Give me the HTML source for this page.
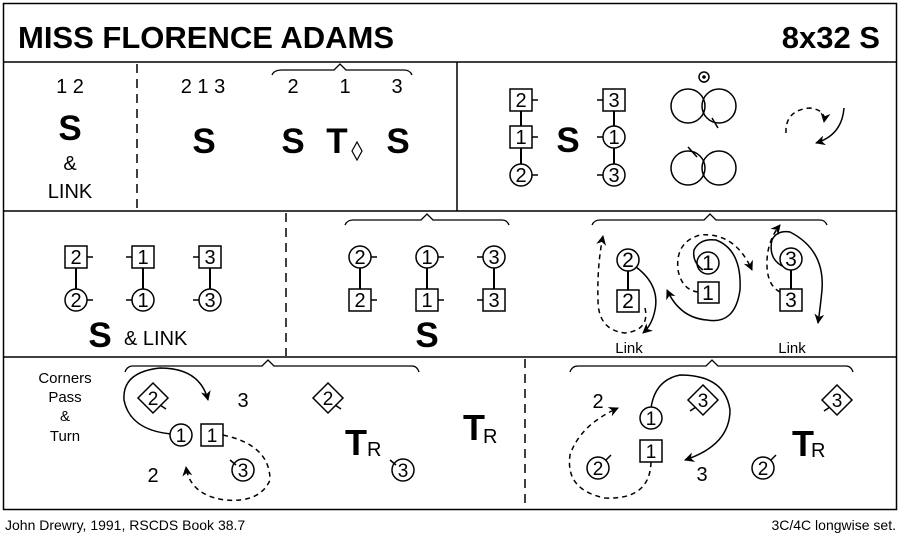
<!DOCTYPE html>
<html><head><style>
html,body{margin:0;padding:0;background:#fff}
svg{display:block}
text{font-family:"Liberation Sans",sans-serif;fill:#000}
.n{font-size:20px;text-anchor:middle}
.b{font-weight:bold;text-anchor:middle}
</style></head><body>
<svg width="900" height="542" viewBox="0 0 900 542" xmlns="http://www.w3.org/2000/svg">
<defs>
<marker id="ah" viewBox="0 0 10 10" refX="9" refY="5" markerWidth="10" markerHeight="10" orient="auto-start-reverse" markerUnits="userSpaceOnUse">
<path d="M0,0 L10,5 L0,10 L3,5 Z" fill="#000"/>
</marker>
</defs>
<g fill="none" stroke="#000" stroke-width="1.5">
<rect x="3.5" y="3.5" width="893" height="506"/>
<line x1="3" y1="62" x2="897" y2="62"/>
<line x1="3" y1="211" x2="897" y2="211"/>
<line x1="3" y1="357" x2="897" y2="357"/>
<line x1="457" y1="62" x2="457" y2="211"/>
</g>
<g stroke="#000" stroke-width="1.5" stroke-dasharray="9,6" fill="none">
<line x1="137" y1="64" x2="137" y2="210"/>
<line x1="286" y1="213" x2="286" y2="356"/>
<line x1="525" y1="359" x2="525" y2="509"/>
</g>
<text x="18" y="48" style="font-size:31px;font-weight:bold">MISS FLORENCE ADAMS</text>
<text x="880" y="48" style="font-size:31px;font-weight:bold;text-anchor:end">8x32 S</text>

<!-- row 1 -->
<text x="70" y="93" class="n">1 2</text>
<text x="70" y="140" class="b" style="font-size:35px">S</text>
<text x="70" y="170" class="n">&amp;</text>
<text x="70" y="198" class="n">LINK</text>
<text x="203" y="93" class="n">2 1 3</text>
<text x="204" y="153" class="b" style="font-size:35px">S</text>
<path d="M272,75 Q274,70 282,70 L334,70 L340,64 L346,70 L404,70 Q410,70 412,75" fill="none" stroke="#000" stroke-width="1.3"/>
<text x="293" y="93" class="n">2</text><text x="345" y="93" class="n">1</text><text x="397" y="93" class="n">3</text>
<text x="293" y="153" class="b" style="font-size:35px">S</text>
<text x="337" y="153" class="b" style="font-size:35px">T</text>
<path d="M357,142 L362,151 L357,160 L352,151 Z" fill="none" stroke="#000" stroke-width="1.2"/>
<text x="398" y="153" class="b" style="font-size:35px">S</text>

<g stroke="#000" stroke-width="1.5" fill="none">
<line x1="521" y1="100" x2="521" y2="175" stroke-width="2"/>
<rect x="510" y="89" width="22" height="22" fill="#fff"/><line x1="532" y1="100" x2="538" y2="100"/>
<rect x="510" y="126" width="22" height="22" fill="#fff"/><line x1="532" y1="137" x2="538" y2="137"/>
<circle cx="521" cy="175" r="11" fill="#fff"/><line x1="532" y1="175" x2="538" y2="175"/>
<line x1="614" y1="100" x2="614" y2="175" stroke-width="2"/>
<rect x="603" y="89" width="22" height="22" fill="#fff"/><line x1="597" y1="100" x2="603" y2="100"/>
<circle cx="614" cy="137" r="11" fill="#fff"/><line x1="597" y1="137" x2="603" y2="137"/>
<circle cx="614" cy="175" r="11" fill="#fff"/><line x1="597" y1="175" x2="603" y2="175"/>
<circle cx="688" cy="106" r="17"/><circle cx="719" cy="106" r="17"/>
<line x1="712" y1="118" x2="718" y2="128"/>
<circle cx="704" cy="77" r="5"/>
<circle cx="688" cy="168" r="17"/><circle cx="719" cy="168" r="17"/>
<line x1="688" y1="147" x2="697" y2="157"/>
<path d="M786,133 Q785,110 810,108 Q826,110 824,122" stroke-dasharray="5,4" marker-end="url(#ah)"/>
<path d="M844,108 Q842,135 816,143" marker-end="url(#ah)"/>
</g>
<circle cx="704" cy="77" r="1.8" fill="#000"/>
<text x="521" y="107" class="n">2</text><text x="521" y="144" class="n">1</text><text x="521" y="182" class="n">2</text>
<text x="614" y="107" class="n">3</text><text x="614" y="144" class="n">1</text><text x="614" y="182" class="n">3</text>
<text x="568" y="152" class="b" style="font-size:35px">S</text>

<!-- row 2 -->
<g stroke="#000" stroke-width="1.5" fill="none">
<line x1="76" y1="257" x2="76" y2="300" stroke-width="2"/>
<rect x="65" y="246" width="22" height="22" fill="#fff"/><line x1="87" y1="257" x2="93" y2="257"/>
<circle cx="76" cy="300" r="11" fill="#fff"/><line x1="87" y1="300" x2="93" y2="300"/>
<line x1="143" y1="257" x2="143" y2="300" stroke-width="2"/>
<rect x="132" y="246" width="22" height="22" fill="#fff"/><line x1="126" y1="257" x2="132" y2="257"/>
<circle cx="143" cy="300" r="11" fill="#fff"/><line x1="126" y1="300" x2="132" y2="300"/>
<line x1="210" y1="257" x2="210" y2="300" stroke-width="2"/>
<rect x="199" y="246" width="22" height="22" fill="#fff"/><line x1="193" y1="257" x2="199" y2="257"/>
<circle cx="210" cy="300" r="11" fill="#fff"/><line x1="193" y1="300" x2="199" y2="300"/>

<path d="M345,225 Q347,220 353,220 L421,220 L427,214 L433,220 L502,220 Q507,220 509,225" stroke-width="1.3"/>
<line x1="360" y1="257" x2="360" y2="300" stroke-width="2"/>
<circle cx="360" cy="257" r="11" fill="#fff"/><line x1="371" y1="257" x2="377" y2="257"/>
<rect x="349" y="289" width="22" height="22" fill="#fff"/><line x1="371" y1="300" x2="377" y2="300"/>
<line x1="427" y1="257" x2="427" y2="300" stroke-width="2"/>
<circle cx="427" cy="257" r="11" fill="#fff"/><line x1="438" y1="257" x2="444" y2="257"/>
<rect x="416" y="289" width="22" height="22" fill="#fff"/><line x1="438" y1="300" x2="444" y2="300"/>
<line x1="494" y1="257" x2="494" y2="300" stroke-width="2"/>
<circle cx="494" cy="257" r="11" fill="#fff"/><line x1="477" y1="257" x2="483" y2="257"/>
<rect x="483" y="289" width="22" height="22" fill="#fff"/><line x1="477" y1="300" x2="483" y2="300"/>

<path d="M592,225 Q594,220 600,220 L704,220 L710,214 L716,220 L820,220 Q825,220 827,225" stroke-width="1.3"/>
<line x1="628" y1="260" x2="628" y2="300" stroke-width="2"/>
<circle cx="628" cy="260" r="11" fill="#fff"/>
<rect x="617" y="290" width="22" height="22" fill="#fff"/>
<path d="M645,308 Q650,330 625,333 Q598,330 598,300 Q597,265 603,236" stroke-dasharray="5,4" marker-end="url(#ah)"/>
<path d="M636,267 Q660,285 655,310 Q652,325 643,333" marker-end="url(#ah)"/>
<circle cx="708" cy="263" r="11" fill="#fff"/>
<rect x="698" y="282" width="21" height="21" fill="#fff"/>
<path d="M698,292 Q682,290 678,270 Q675,242 700,235 Q735,232 752,270" stroke-dasharray="5,4" marker-end="url(#ah)"/>
<path d="M703,270 Q692,262 694,250 Q700,238 716,240 Q742,250 740,290 Q735,325 707,320 Q680,318 667,290" marker-end="url(#ah)"/>
<line x1="791" y1="259" x2="791" y2="300" stroke-width="2"/>
<circle cx="791" cy="259" r="11" fill="#fff"/>
<rect x="780" y="289" width="22" height="22" fill="#fff"/>
<path d="M780,292 Q766,285 767,260 Q768,240 780,225" stroke-dasharray="5,4" marker-end="url(#ah)"/>
<path d="M782,266 Q768,258 772,240 Q777,230 790,232 Q825,250 822,290 Q820,310 818,323" marker-end="url(#ah)"/>
</g>
<text x="76" y="264" class="n">2</text><text x="76" y="307" class="n">2</text>
<text x="143" y="264" class="n">1</text><text x="143" y="307" class="n">1</text>
<text x="210" y="264" class="n">3</text><text x="210" y="307" class="n">3</text>
<text x="100" y="347" class="b" style="font-size:35px">S</text>
<text x="124" y="345" style="font-size:20px">&amp; LINK</text>
<text x="360" y="264" class="n">2</text><text x="360" y="307" class="n">2</text>
<text x="427" y="264" class="n">1</text><text x="427" y="307" class="n">1</text>
<text x="494" y="264" class="n">3</text><text x="494" y="307" class="n">3</text>
<text x="427" y="347" class="b" style="font-size:35px">S</text>
<text x="628" y="267" class="n" style="font-size:21px">2</text><text x="628" y="308" class="n" style="font-size:21px">2</text>
<text x="708" y="270" class="n" style="font-size:21px">1</text><text x="708" y="300" class="n" style="font-size:21px">1</text>
<text x="791" y="266" class="n" style="font-size:21px">3</text><text x="791" y="307" class="n" style="font-size:21px">3</text>
<text x="629" y="353" class="n" style="font-size:15px">Link</text>
<text x="792" y="353" class="n" style="font-size:15px">Link</text>

<!-- row 3 -->
<text x="65" y="383" class="n" style="font-size:15px">Corners</text>
<text x="65" y="402" class="n" style="font-size:15px">Pass</text>
<text x="65" y="421" class="n" style="font-size:15px">&amp;</text>
<text x="65" y="441" class="n" style="font-size:15px">Turn</text>
<g stroke="#000" stroke-width="1.5" fill="none">
<path d="M125,372 Q127,366 133,366 L262,366 L268,360 L274,366 L412,366 Q417,366 419,372" stroke-width="1.3"/>
<path d="M153,383 L168,398 L153,413 L138,398 Z" fill="#fff"/><line x1="160" y1="405" x2="166" y2="409"/>
<path d="M171,434 Q130,430 124,400 Q122,372 160,368 Q200,368 208,400" marker-end="url(#ah)"/>
<circle cx="181" cy="435" r="11" fill="#fff"/>
<rect x="201" y="424" width="22" height="22" fill="#fff"/>
<path d="M223,435 Q270,445 270,480 Q260,503 225,500 Q190,495 186,467" stroke-dasharray="5,4" marker-end="url(#ah)"/>
<circle cx="243" cy="470" r="11" fill="#fff"/><line x1="230" y1="460" x2="236" y2="465"/>
<path d="M328,383 L343,398 L328,413 L313,398 Z" fill="#fff"/><line x1="335" y1="405" x2="341" y2="409"/>
<circle cx="403" cy="470" r="11" fill="#fff"/><line x1="390" y1="460" x2="396" y2="465"/>

<path d="M570,372 Q572,366 578,366 L706,366 L712,360 L718,366 L846,366 Q851,366 853,372" stroke-width="1.3"/>
<path d="M651,408 Q655,380 680,375 Q725,375 730,410 Q730,445 685,460" marker-end="url(#ah)"/>
<circle cx="651" cy="418" r="11" fill="#fff"/>
<rect x="640" y="440" width="22" height="22" fill="#fff"/>
<path d="M651,462 Q650,500 605,498 Q565,490 570,455 Q580,425 618,408" stroke-dasharray="5,4" marker-end="url(#ah)"/>
<path d="M703,385 L718,400 L703,415 L688,400 Z" fill="#fff"/><line x1="696" y1="407" x2="690" y2="411"/>
<circle cx="598" cy="468" r="11" fill="#fff"/><line x1="606" y1="460" x2="611" y2="455"/>
<circle cx="763" cy="468" r="11" fill="#fff"/><line x1="771" y1="460" x2="776" y2="455"/>
<path d="M837,385 L852,400 L837,415 L822,400 Z" fill="#fff"/><line x1="830" y1="407" x2="824" y2="411"/>
</g>
<text x="153" y="405" class="n" style="font-size:19px">2</text>
<text x="243" y="407" class="n">3</text>
<text x="181" y="442" class="n" style="font-size:19px">1</text>
<text x="212" y="442" class="n" style="font-size:19px">1</text>
<text x="153" y="482" class="n">2</text>
<text x="243" y="477" class="n" style="font-size:19px">3</text>
<text x="328" y="405" class="n" style="font-size:19px">2</text>
<text x="356" y="455" class="b" style="font-size:36px">T</text><text x="367" y="456" style="font-size:20px">R</text>
<text x="403" y="477" class="n" style="font-size:19px">3</text>
<text x="474" y="440" class="b" style="font-size:36px">T</text><text x="483" y="443" style="font-size:20px">R</text>
<text x="598" y="408" class="n">2</text>
<text x="651" y="425" class="n" style="font-size:19px">1</text>
<text x="651" y="458" class="n" style="font-size:19px">1</text>
<text x="703" y="407" class="n" style="font-size:19px">3</text>
<text x="702" y="481" class="n">3</text>
<text x="598" y="475" class="n" style="font-size:19px">2</text>
<text x="763" y="475" class="n" style="font-size:19px">2</text>
<text x="803" y="456" class="b" style="font-size:36px">T</text><text x="811" y="457" style="font-size:20px">R</text>
<text x="837" y="407" class="n" style="font-size:19px">3</text>

<text x="5" y="530" style="font-size:14px">John Drewry, 1991, RSCDS Book 38.7</text>
<text x="896" y="530" style="font-size:14px;text-anchor:end">3C/4C longwise set.</text>
</svg>
</body></html>
